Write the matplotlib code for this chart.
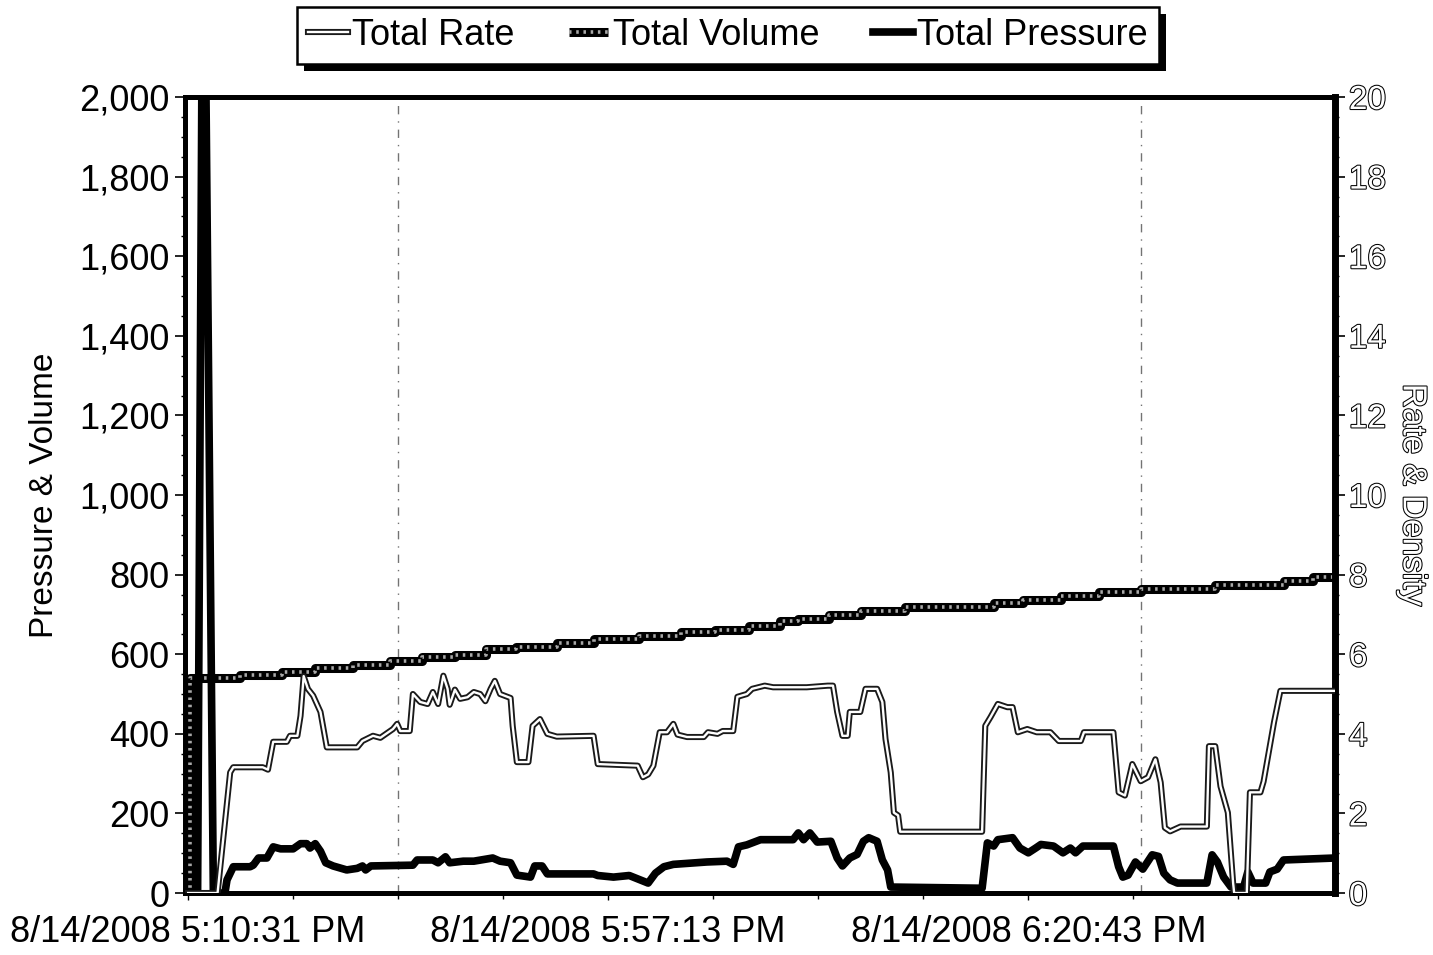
import matplotlib
matplotlib.use('Agg')
import matplotlib.pyplot as plt
import matplotlib.patheffects as pe
from matplotlib.ticker import MultipleLocator, FuncFormatter
from matplotlib.legend_handler import HandlerTuple
from matplotlib.patches import Rectangle
from matplotlib.lines import Line2D

plt.rcParams['font.family'] = ['Liberation Sans', 'DejaVu Sans']

# ---------------- data ----------------
time_labels = ['8/14/2008 5:10:31 PM', '8/14/2008 5:57:13 PM', '8/14/2008 6:20:43 PM']
time_label_pos = [0, 40, 80]
event_x = [20, 90.7]

rate_x = [0, 2.8, 4.0, 4.3, 7.1, 7.6, 8.1, 9.4, 9.7, 10.4, 10.7, 11.0, 11.4, 11.9, 12.6, 13.2,
          16.1, 16.6, 17.6, 18.3, 19.5, 19.9, 20.2, 21.1, 21.4, 22.1, 22.8, 23.3, 23.8, 24.3,
          24.7, 24.9, 25.4, 25.9, 26.6, 27.2, 27.8, 28.3, 28.8, 29.2, 29.7, 30.7, 30.9, 31.3,
          32.4, 32.8, 33.5, 34.2, 35.1, 38.6, 39.0, 42.8, 43.3, 43.8, 44.3, 44.9, 45.6, 46.2,
          46.6, 47.5, 49.1, 49.5, 50.4, 50.9, 51.9, 52.3, 53.2, 53.7, 54.9, 55.7, 57.6, 58.9,
          60.9, 61.4, 61.8, 62.3, 62.8, 63.0, 64.0, 64.5, 65.6, 66.1, 66.4, 66.9, 67.2, 67.6,
          67.8, 75.6, 75.9, 76.4, 77.1, 78.0, 78.5, 79.0, 79.9, 80.8, 82.1, 82.9, 85.0, 85.3,
          88.1, 88.6, 89.2, 89.9, 90.7, 91.4, 92.1, 92.6, 93.0, 93.5, 94.5, 97.0, 97.2, 97.8,
          98.3, 99.0, 99.5, 99.6, 100.8, 101.1, 102.1, 102.4, 103.4, 104.0, 109.2]
rate_y = [0, 0, 3.03, 3.16, 3.16, 3.10, 3.80, 3.80, 3.95, 3.95, 4.45, 5.45, 5.13, 4.96, 4.55, 3.66,
          3.66, 3.82, 3.95, 3.90, 4.12, 4.25, 4.07, 4.07, 5.00, 4.80, 4.75, 5.05, 4.75, 5.46,
          5.13, 4.73, 5.11, 4.88, 4.92, 5.05, 5.00, 4.82, 5.13, 5.33, 5.00, 4.90, 4.20, 3.29,
          3.29, 4.20, 4.37, 4.00, 3.93, 3.95, 3.24, 3.20, 2.91, 2.98, 3.20, 4.04, 4.04, 4.25,
          3.98, 3.92, 3.92, 4.04, 4.00, 4.07, 4.07, 4.93, 5.00, 5.13, 5.21, 5.17, 5.17, 5.17,
          5.21, 5.21, 4.55, 3.95, 3.95, 4.55, 4.55, 5.13, 5.13, 4.80, 3.87, 3.03, 2.02, 1.95,
          1.54, 1.54, 4.20, 4.42, 4.75, 4.67, 4.67, 4.04, 4.12, 4.04, 4.04, 3.82, 3.82, 4.04,
          4.04, 2.53, 2.45, 3.24, 2.81, 2.91, 3.36, 2.78, 1.64, 1.55, 1.67, 1.67, 3.69, 3.69,
          2.68, 2.02, 0.25, 0, 0, 2.53, 2.53, 2.80, 4.30, 5.08, 5.08]

pressure_x = [0, 0.9, 1.3, 1.7, 2.4, 3.5, 3.7, 4.3, 5.9, 6.2, 6.7, 7.5, 8.1, 8.8, 10.0, 10.7,
              11.3, 11.6, 12.1, 12.6, 13.1, 13.8, 15.1, 16.1, 16.6, 16.9, 17.4, 21.4, 21.8,
              23.3, 23.8, 24.5, 24.9, 26.2, 27.2, 29.0, 29.7, 30.7, 31.3, 32.6, 33.0, 33.7,
              34.2, 38.6, 39.0, 40.5, 42.0, 43.8, 44.5, 45.3, 46.2, 49.4, 51.3, 51.9, 52.4,
              53.2, 54.5, 57.6, 58.1, 58.6, 59.2, 59.9, 61.2, 61.8, 62.3, 63.0, 63.7, 64.3,
              64.8, 65.6, 66.1, 66.6, 66.9, 75.6, 76.1, 76.7, 77.1, 78.5, 79.2, 80.0, 80.7,
              81.2, 82.4, 83.3, 84.0, 84.5, 85.2, 88.1, 88.6, 89.0, 89.5, 90.2, 90.9, 91.8,
              92.4, 92.9, 93.5, 94.2, 97.0, 97.5, 98.0, 98.6, 99.3, 100.5, 100.9, 101.4, 102.6,
              103.0, 103.7, 104.3, 109.2]
pressure_y = [0, 0, 2000, 2000, 0, 0, 33, 66, 66, 70, 88, 88, 116, 111, 111, 124,
              124, 113, 124, 105, 76, 68, 58, 62, 68, 58, 68, 70, 83,
              83, 76, 91, 76, 80, 80, 88, 80, 76, 45, 40, 68, 68,
              48, 48, 44, 40, 44, 25, 50, 66, 72, 78, 80, 72, 116,
              121, 134, 134, 151, 134, 151, 128, 130, 88, 68, 88, 97, 130,
              139, 130, 83, 58, 15, 12, 126, 118, 134, 139, 113, 101, 113,
              122, 118, 101, 113, 101, 118, 118, 66, 40, 45, 78, 60, 96,
              92, 50, 33, 25, 25, 96, 78, 40, 15, 15, 53, 25, 25,
              53, 60, 83, 88]

volume_x = [0, 0.15, 4.95, 8.95, 12.1, 15.7, 19.2, 22.3, 25.4, 28.4, 31.2, 35.1, 38.6, 42.9,
            46.9, 50.2, 53.4, 56.4, 58.1, 61.0, 64.1, 68.3, 76.7, 79.5, 83.1, 86.7, 90.7,
            97.8, 104.3, 107.1, 109.2]
volume_y = [0, 541, 549, 556, 566, 574, 584, 592, 599, 612, 619, 627, 637, 645,
            655, 662, 670, 683, 688, 698, 708, 718, 728, 736, 746, 756, 763,
            774, 784, 794, 794]

# ---------------- figure ----------------
fig = plt.figure(figsize=(14.33, 9.55), dpi=100)
ax = fig.add_axes([0.1291, 0.0649, 0.8025, 0.8335])
ax2 = ax.twinx()

for xv in event_x:
    ax.axvline(xv, color='black', lw=1.0, ls=(0, (6, 5, 1, 5)), alpha=0.55, zorder=1)

vol_style_base = dict(color='black', lw=6.5, solid_capstyle='butt')
vol_style_spk = dict(color='#a8a8a8', lw=2.6, ls=(0, (0.7, 1.3)))
ax.plot(volume_x, volume_y, drawstyle='steps-post', zorder=3, **vol_style_base)
ax.plot(volume_x, volume_y, drawstyle='steps-post', zorder=3.1, **vol_style_spk)
press, = ax.plot(pressure_x, pressure_y, color='black', lw=5.5, solid_joinstyle='round',
                 zorder=4)
rate, = ax2.plot(rate_x, rate_y, color='white', lw=1.7, zorder=4,
                 path_effects=[pe.Stroke(linewidth=4.4, foreground='#1a1a1a'), pe.Normal()])

ax.set_xlim(-0.3, 109.2)
ax.set_ylim(0, 2000)
ax2.set_ylim(0, 20)

ax.set_yticks(range(0, 2001, 200))
ax.yaxis.set_major_formatter(FuncFormatter(lambda v, p: f'{int(v):,}'))
ax.yaxis.set_minor_locator(MultipleLocator(50))
ax.set_xticks(time_label_pos, labels=time_labels)
ax.xaxis.set_minor_locator(MultipleLocator(10))

ax.tick_params(axis='y', which='major', direction='out', length=7, width=1.2,
               labelsize=26, pad=4)
ax.tick_params(axis='y', which='minor', direction='out', length=3, width=1)
ax.tick_params(axis='x', which='major', direction='out', length=5, width=1,
               labelsize=26, pad=11)
ax.tick_params(axis='x', which='minor', direction='out', length=4, width=1)

ax2.set_yticks(range(0, 21, 2))
ax2.yaxis.set_minor_locator(MultipleLocator(0.5))
ax2.tick_params(axis='y', which='major', direction='out', length=7, width=1.2,
                labelsize=24, pad=3, labelcolor='white')
ax2.tick_params(axis='y', which='minor', direction='out', length=3, width=1)
outline = [pe.withStroke(linewidth=1.5, foreground='black')]
for lab in ax2.get_yticklabels():
    lab.set_path_effects(outline)

ax.set_ylabel('Pressure & Volume', fontsize=24, labelpad=14)
ax2.set_ylabel('Rate & Density', fontsize=24, rotation=270, labelpad=30,
               color='white', path_effects=outline)

for a in (ax, ax2):
    for s in a.spines.values():
        s.set_linewidth(3.5)
        s.set_color('black')
ax2.spines['right'].set_linewidth(5)

vol_handle = (Line2D([], [], **vol_style_base), Line2D([], [], **vol_style_spk))
handles = [rate, vol_handle, press]
labels = ['Total Rate', 'Total Volume', 'Total Pressure']
leg = fig.legend(handles, labels, loc='center', bbox_to_anchor=(0.508, 0.963), ncol=3,
                 fontsize=26, frameon=True, fancybox=False, edgecolor='black',
                 framealpha=1, handlelength=1.1, handletextpad=0.12, columnspacing=1.5,
                 borderpad=0.3, borderaxespad=0,
                 handler_map={tuple: HandlerTuple(ndivide=1, pad=0)})
leg.get_frame().set_linewidth(1.8)
leg.set_zorder(10)

fig.canvas.draw()
bb = leg.get_window_extent()
inv = fig.transFigure.inverted()
(x0, y0), (x1, y1) = inv.transform([(bb.x0 + 7, bb.y0 - 7), (bb.x1 + 7, bb.y1 - 7)])
fig.patches.append(Rectangle((x0, y0), x1 - x0, y1 - y0, transform=fig.transFigure,
                             facecolor='black', edgecolor='none', zorder=9))

fig.savefig('out.png', dpi=100, facecolor='white')
